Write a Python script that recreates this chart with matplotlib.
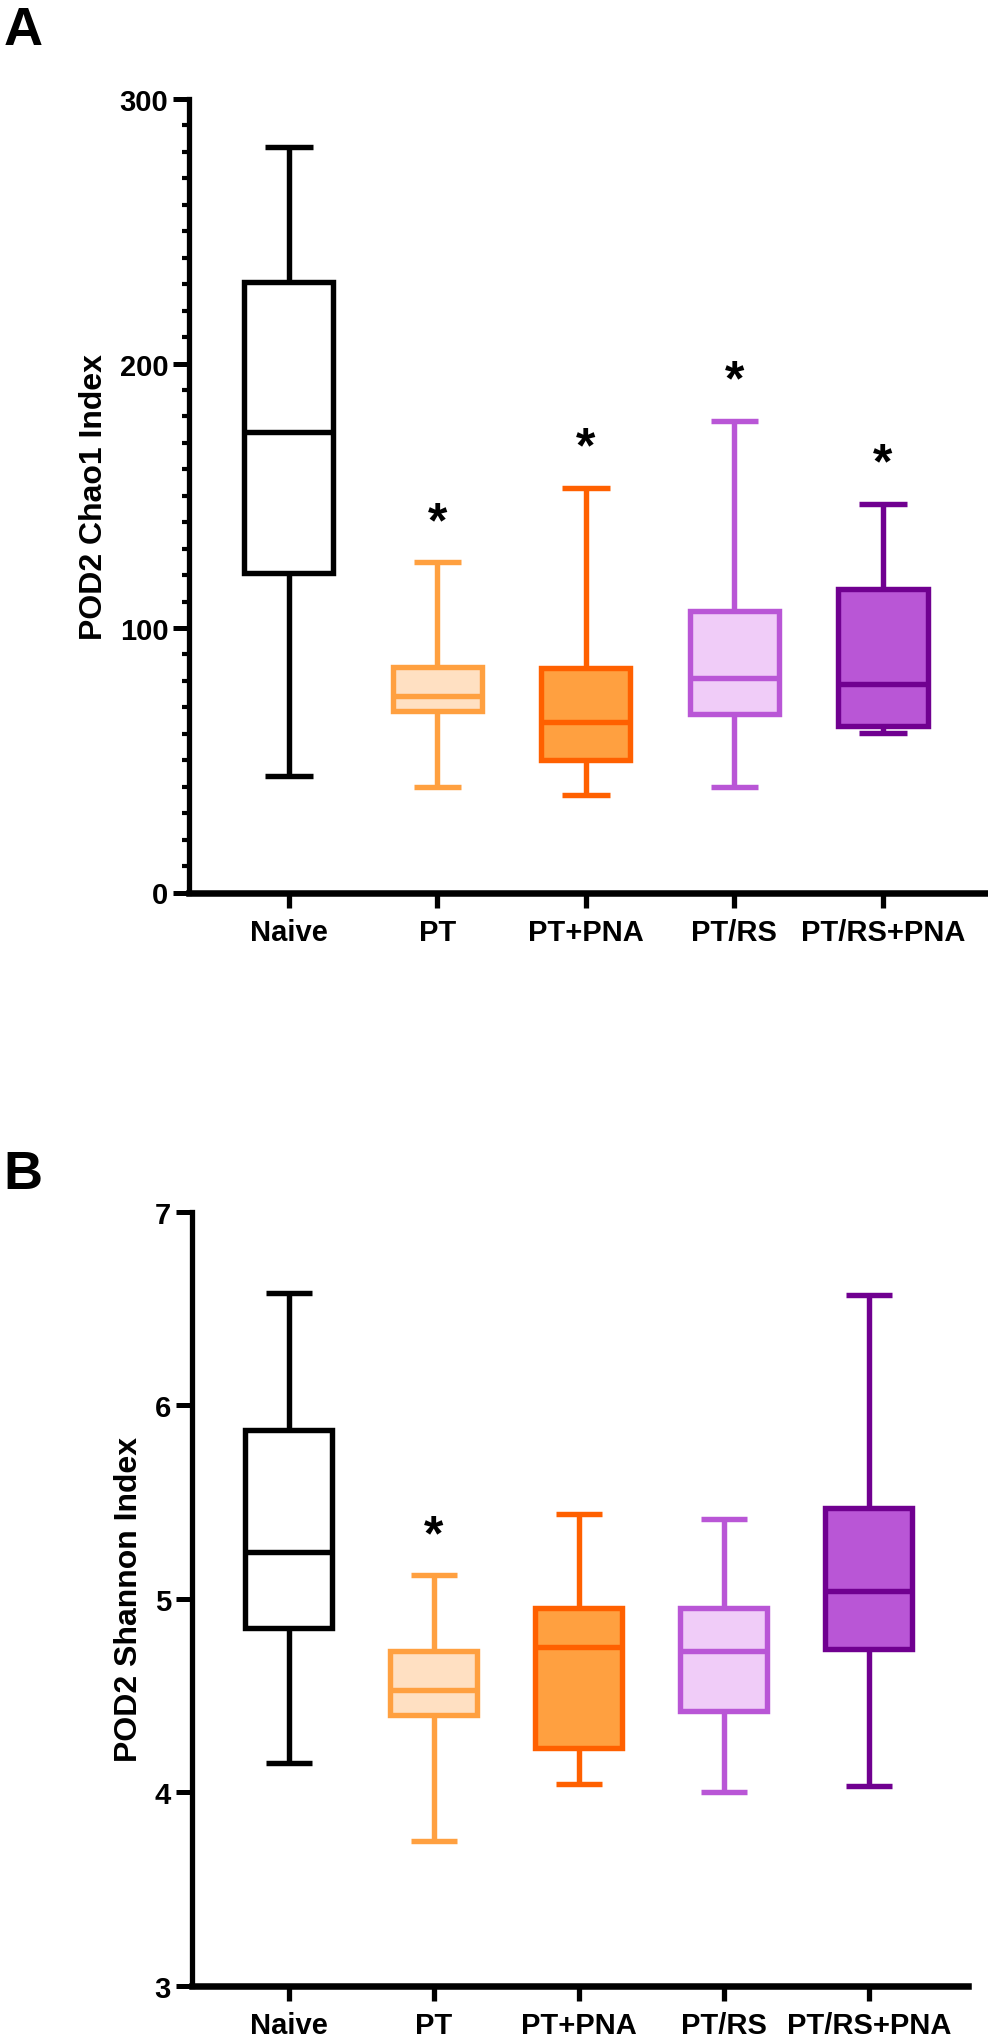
import matplotlib
matplotlib.use("Agg")
import matplotlib.pyplot as plt
from matplotlib.ticker import MultipleLocator

plt.rcParams['font.family'] = ['Liberation Sans', 'DejaVu Sans']
plt.rcParams['font.weight'] = 'bold'

groups = ['Naive', 'PT', 'PT+PNA', 'PT/RS', 'PT/RS+PNA']
edge_colors = ['#000000', '#FFA040', '#FF6000', '#B956D6', '#700090']
fill_colors = ['#FFFFFF', '#FFE0C2', '#FFA040', '#F0CCF8', '#B956D6']

# panel A - Chao1 index
chao_low = [44.0, 40.0, 37.0, 40.0, 60.2]
chao_q1 = [120.7, 68.7, 50.0, 67.6, 63.1]
chao_med = [174.0, 74.4, 64.5, 81.0, 78.8]
chao_q3 = [230.7, 85.1, 85.0, 106.5, 114.8]
chao_high = [281.7, 124.8, 153.0, 178.4, 146.8]
chao_sig = [False, True, True, True, True]

# panel B - Shannon index
shan_low = [4.15, 3.75, 4.04, 4.00, 4.03]
shan_q1 = [4.85, 4.40, 4.23, 4.42, 4.74]
shan_med = [5.24, 4.53, 4.75, 4.73, 5.04]
shan_q3 = [5.87, 4.73, 4.95, 4.95, 5.47]
shan_high = [6.58, 5.12, 5.44, 5.41, 6.57]
shan_sig = [False, True, False, False, False]

W, H = 988, 2040
fig = plt.figure(figsize=(W / 100, H / 100), dpi=100)


def px_axes(left, right, top, bottom):
    return fig.add_axes([left / W, 1 - bottom / H, (right - left) / W, (bottom - top) / H])


def draw_panel(ax, low, q1, med, q3, high, sig, ylabel):
    stats = []
    for i in range(len(groups)):
        stats.append({'whislo': low[i], 'q1': q1[i], 'med': med[i],
                      'q3': q3[i], 'whishi': high[i], 'fliers': []})
    lw = 3.9
    res = ax.bxp(stats, positions=range(len(groups)), widths=0.6, capwidths=0.32,
                 patch_artist=True, showfliers=False, manage_ticks=False)
    for i in range(len(groups)):
        box = res['boxes'][i]
        box.set_facecolor(fill_colors[i])
        box.set_edgecolor(edge_colors[i])
        box.set_linewidth(lw)
        box.set_joinstyle('miter')
        res['medians'][i].set_color(edge_colors[i])
        res['medians'][i].set_linewidth(lw)
        res['medians'][i].set_solid_capstyle('butt')
        for ln in res['whiskers'][2 * i:2 * i + 2] + res['caps'][2 * i:2 * i + 2]:
            ln.set_color(edge_colors[i])
            ln.set_linewidth(lw)
            ln.set_solid_capstyle('butt')
        if sig[i]:
            ax.annotate('*', (i, high[i]), xytext=(0, 19), textcoords='offset points',
                        ha='center', va='baseline', fontsize=36, fontweight='bold',
                        annotation_clip=False)

    ax.set_xlim(-0.67, 4.685)
    ax.set_xticks(range(len(groups)))
    ax.set_xticklabels(groups)
    for s in ['top', 'right']:
        ax.spines[s].set_visible(False)
    ax.spines['left'].set_linewidth(3.8)
    ax.spines['bottom'].set_linewidth(4.7)
    ax.tick_params(axis='y', which='major', length=11.5, width=3.6, pad=3.5,
                   labelsize=21, direction='out')
    ax.tick_params(axis='y', which='minor', length=5, width=3, direction='out')
    ax.tick_params(axis='x', which='major', length=11, width=3.8, pad=7.5,
                   labelsize=21, direction='out')
    ax.set_ylabel(ylabel, fontsize=23, fontweight='bold', labelpad=8)


axA = px_axes(189.3, 984.7, 100, 893.5)
draw_panel(axA, chao_low, chao_q1, chao_med, chao_q3, chao_high, chao_sig,
           'POD2 Chao1 Index')
axA.set_ylim(0, 300)
axA.set_yticks([0, 100, 200, 300])
axA.yaxis.set_minor_locator(MultipleLocator(10))

axB = px_axes(191.7, 968.2, 1212.7, 1986.7)
draw_panel(axB, shan_low, shan_q1, shan_med, shan_q3, shan_high, shan_sig,
           'POD2 Shannon Index')
axB.set_ylim(3, 7)
axB.set_yticks([3, 4, 5, 6, 7])

fig.text(4 / W, 1 - 6 / H, 'A', fontsize=39, fontweight='bold', ha='left', va='top')
fig.text(3 / W, 1 - 1150 / H, 'B', fontsize=39, fontweight='bold', ha='left', va='top')

fig.savefig('out.png', dpi=100)
